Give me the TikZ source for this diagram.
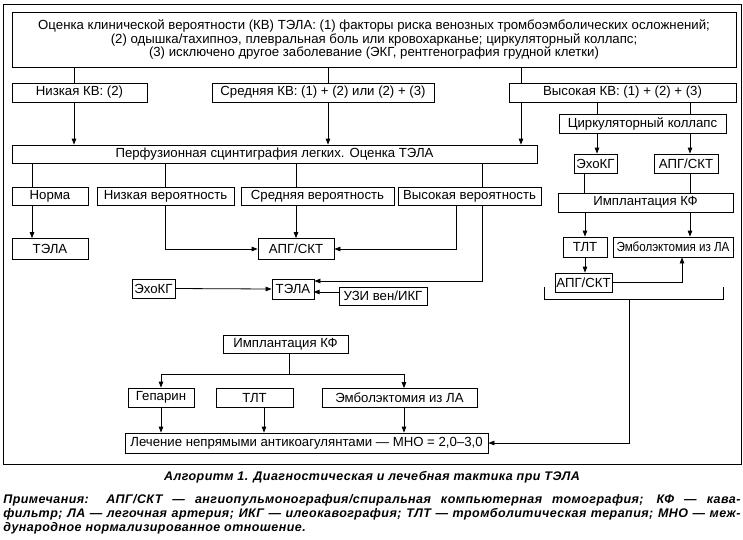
\documentclass[tikz,border=0pt]{standalone}
\usepackage{fontspec}
\setmainfont{Liberation Sans}
\newfontfamily\slimfont[FakeStretch=0.88]{Liberation Sans}
\newfontfamily\captfont[LetterSpace=3.5]{Liberation Sans}
\usetikzlibrary{positioning, arrows.meta}

\begin{document}
\begin{tikzpicture}[x=1pt, y=-1pt, line width=0.8pt,
  >={Triangle[length=6pt,width=4.5pt]},
  box/.style={draw, inner sep=1pt, font=\fontsize{13.2}{13.5}\selectfont,
              minimum height=19pt, align=center},
  slim/.style={box, font=\slimfont\fontsize{13.2}{13.5}\selectfont},
  capt/.style={font=\captfont\bfseries\itshape\fontsize{12.5}{14}\selectfont}]
  \useasboundingbox (0,0) rectangle (743,539);
  \draw[line width=1pt] (3,4) rectangle (741,464);

  \coordinate (x32)  at (32,0);
  \coordinate (x74)  at (74,0);
  \coordinate (x264) at (264,0);
  \coordinate (x289) at (289,0);
  \coordinate (x296) at (296,0);
  \coordinate (x328) at (328,0);
  \coordinate (x404) at (404,0);
  \coordinate (x456) at (456,0);
  \coordinate (x482) at (482,0);
  \coordinate (x521) at (521,0);
  \coordinate (x584) at (584,0);
  \coordinate (x597) at (597,0);
  \coordinate (x682) at (682,0);
  \coordinate (x690) at (690,0);
  \coordinate (brk)  at (629,299);

  \node[box, minimum width=724pt, minimum height=55pt] (kv) at (374,39.5)
    {Оценка клинической вероятности (КВ) ТЭЛА: (1) факторы риска венозных тромбоэмболических осложнений;\\
     (2) одышка/тахипноэ, плевральная боль или кровохарканье; циркуляторный коллапс;\\
     (3) исключено другое заболевание (ЭКГ, рентгенография грудной клетки)};
  \node[box, minimum width=135pt] (kvlow)  at ( 79.5,92.5) {Низкая КВ: (2)};
  \node[box, minimum width=222pt] (kvmid)  at (323,  92.5) {Средняя КВ: (1) + (2) или (2) + (3)};
  \node[box, minimum width=227pt] (kvhigh) at (622.5,92.5) {Высокая КВ: (1) + (2) + (3)};

  \node[box, minimum width=525pt, minimum height=18pt] (scint) at (274.5,154) {Перфузионная сцинтиграфия легких. Оценка ТЭЛА};
  \node[box, minimum width=76pt,  minimum height=18pt] (norm)  at ( 50,  196) {Норма};
  \node[box, minimum width=137pt, minimum height=18pt] (plow)  at (165.5,196) {Низкая вероятность};
  \node[box, minimum width=153pt, minimum height=18pt] (pmid)  at (317.5,196) {Средняя вероятность};
  \node[box, minimum width=143pt, minimum height=18pt] (phigh) at (469.5,196) {Высокая вероятность};
  \node[box, minimum width=76pt,  minimum height=21pt] (pe1)   at ( 50,  249) {ТЭЛА};
  \node[box, minimum width=76pt,  minimum height=21pt] (ctpa1) at (296,  249) {АПГ/СКТ};
  \node[box, minimum width=43pt]                       (echo1) at (153.5,288.5) {ЭхоКГ};
  \node[box, minimum width=42pt,  minimum height=20pt] (pe2)   at (293,  289) {ТЭЛА};
  \node[box, minimum width=88pt,  minimum height=18pt] (duplex) at (383, 296) {УЗИ вен/ИКГ};

  \node[box, minimum width=167pt] (collapse) at (642.5,123.5) {Циркуляторный коллапс};
  \node[box, minimum width=43pt]  (echo2)    at (595.5,163.5) {ЭхоКГ};
  \node[box, minimum width=64pt]  (ctpa2)    at (686,  163.5) {АПГ/СКТ};
  \node[box, minimum width=175pt] (filter1)  at (645.5,202.5) {Имплантация КФ};
  \node[box, minimum width=44pt, minimum height=20pt]  (tlt1)   at (585, 247) {ТЛТ};
  \node[slim, minimum width=120pt, minimum height=20pt] (embol1) at (673, 247) {Эмболэктомия из ЛА};
  \node[box, minimum width=57pt]  (ctpa3)    at (583.5,282.5) {АПГ/СКТ};

  \node[box, minimum width=125pt, minimum height=18pt] (filter2) at (285.5,344) {Имплантация КФ};
  \node[box, minimum width=66pt]  (hep)    at (161,  397.5) {Гепарин};
  \node[box, minimum width=77pt]  (tlt2)   at (254.5,397.5) {ТЛТ};
  \node[box, minimum width=155pt] (embol2) at (399.5,398) {Эмболэктомия из ЛА};
  \node[box, minimum width=363pt, minimum height=20pt] (vka) at (306.5,443)
    {Лечение непрямыми антикоагулянтами — МНО = 2,0–3,0};

  \draw (kv.south -| x74)  -- (kvlow.north -| x74);
  \draw (kv.south -| x328) -- (kvmid.north -| x328);
  \draw (kv.south -| x521) -- (kvhigh.north -| x521);
  \draw[->] (kvlow.south -| x74)  -- (scint.north -| x74);
  \draw[->] (kvmid.south -| x328) -- (scint.north -| x328);
  \draw[->] (kvhigh.south -| x521) -- (scint.north -| x521);

  \draw (scint.south -| x32)   -- (norm.north -| x32);
  \draw (scint.south -| plow)  -- (plow.north);
  \draw (scint.south -| x296)  -- (pmid.north -| x296);
  \draw (scint.south -| x482)  -- (phigh.north -| x482);
  \draw[->] (norm.south -| x32) -- (pe1.north -| x32);
  \draw[->] (plow.south) |- (ctpa1.west);
  \draw[->] (pmid.south -| ctpa1) -- (ctpa1.north);
  \draw[->] (phigh.south -| x456) |- (ctpa1.east);
  \draw[->] (phigh.south -| x482) |- ([yshift=8pt]pe2.east);
  \draw[->] (echo1.east) -- (pe2.west);
  \draw[->] ([yshift=4pt]duplex.west) -- ++(-25,0);

  \draw (kvhigh.south -| x597) -- (collapse.north -| x597);
  \draw (kvhigh.south -| x690) -- (collapse.north -| x690);
  \draw[->] (collapse.south -| x597) -- (echo2.north -| x597);
  \draw[->] (collapse.south -| x690) -- (ctpa2.north -| x690);
  \draw (echo2.south -| x584) -- (filter1.north -| x584);
  \draw (ctpa2.south -| x690) -- (filter1.north -| x690);
  \draw[->] (filter1.south -| tlt1) -- (tlt1.north);
  \draw[->] (filter1.south -| x690) -- (embol1.north -| x690);
  \draw[->] (tlt1.south) -- (tlt1.south |- ctpa3.north);
  \draw[->] (ctpa3.east) -| (embol1.south -| x682);
  \draw (544,287) |- (723,299) -- (723,287);
  \draw[->] (brk) |- (vka.east);

  \draw[->] (filter2.south -| x289) -- ++(0,21) -| (hep.north);
  \draw[->] (filter2.south -| x289) -- ++(0,21) -| (embol2.north -| x404);
  \draw[->] (hep.south) -- (vka.north -| hep);
  \draw[->] (tlt2.south -| x264) -- (vka.north -| x264);
  \draw[->] (embol2.south -| x404) -- (vka.north -| x404);

  \node[capt] (title) at (372,477) {Алгоритм 1. Диагностическая и лечебная тактика при ТЭЛА};
  \node[capt, anchor=north west, text width=737pt, align=justify, inner sep=0pt] (notes) at (3,494)
    {\noindent Примечания: АПГ/СКТ — ангиопульмонография/спиральная компьютерная томография; КФ — кава-\linebreak
     фильтр; ЛА — легочная артерия; ИКГ — илеокавография; ТЛТ — тромболитическая терапия; МНО — меж-\linebreak
     дународное нормализированное отношение.};
\end{tikzpicture}
\end{document}
